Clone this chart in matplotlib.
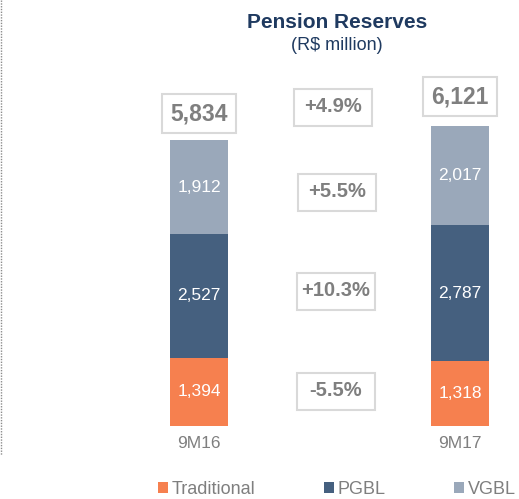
import numpy as np
import matplotlib.pyplot as plt
from matplotlib.lines import Line2D
from matplotlib.patches import Rectangle

plt.rcParams['font.family'] = ['Liberation Sans', 'DejaVu Sans']

# data
periods = ['9M16', '9M17']
traditional = [1394, 1318]
pgbl = [2527, 2787]
vgbl = [1912, 2017]
totals = [5834, 6121]
changes = ['+4.9%', '+5.5%', '+10.3%', '-5.5%']

c_trad = '#F6804F'
c_pgbl = '#45607F'
c_vgbl = '#9AA8BA'
grey = '#7F7F7F'
navy = '#1F3A60'

W, H = 519, 499
fig = plt.figure(figsize=(W / 100, H / 100), dpi=100)

# axes: bar bottom at pixel 426, 0.049 px per unit
ytop = 6500
ax_h = ytop * 0.049 / H
ax = fig.add_axes([0, 1 - 426 / H, 1, ax_h])
ax.set_xlim(-199 / 261, (W - 199) / 261)
ax.set_ylim(0, ytop)
ax.axis('off')

x = np.arange(len(periods))
bw = 58 / 261
b1 = ax.bar(x, traditional, bw, color=c_trad, label='Traditional')
b2 = ax.bar(x, pgbl, bw, bottom=traditional, color=c_pgbl, label='PGBL')
bot3 = np.array(traditional) + np.array(pgbl)
b3 = ax.bar(x, vgbl, bw, bottom=bot3, color=c_vgbl, label='VGBL')

for bars, vals in [(b1, traditional), (b2, pgbl), (b3, vgbl)]:
    for r, v in zip(bars, vals):
        ax.text(r.get_x() + r.get_width() / 2, r.get_y() + r.get_height() / 2,
                f'{v:,}', ha='center', va='center', color='white', fontsize=12.5)

box = dict(boxstyle='square,pad=0.35', fc='white', ec='#D9D9D9', lw=1.5)
offs = [19, 21]
for xi, t, o in zip(x, totals, offs):
    ax.annotate(f'{t:,}', (xi, t), xytext=(0, o), textcoords='offset points',
                ha='center', va='center', fontsize=16.5, fontweight='bold',
                color=grey, bbox=box)

# change boxes, fixed size 78x37 px
chg_pos = [(333, 107), (337, 192), (336, 291), (336, 391)]
for s, (px, py) in zip(changes, chg_pos):
    fig.add_artist(Rectangle(((px - 39) / W, 1 - (py + 18.5) / H), 78 / W, 37 / H,
                             transform=fig.transFigure, fc='white',
                             ec='#D9D9D9', lw=1.5))
    fig.text(px / W, 1 - py / H, s, ha='center', va='center', fontsize=14.5,
             fontweight='bold', color=grey)

# category labels
for xi, p in zip(x, periods):
    ax.text(xi, -17 / 0.049, p, ha='center', va='center', fontsize=12.5,
            color=grey)

fig.text(337 / W, 1 - 22 / H, 'Pension Reserves', ha='center', va='center',
         fontsize=15, fontweight='bold', color=navy)
fig.text(337 / W, 1 - 45 / H, '(R$ million)', ha='center', va='center',
         fontsize=13, color=navy)

fig.legend(handles=[b1, b2, b3], labels=['Traditional', 'PGBL', 'VGBL'],
           loc='center left', bbox_to_anchor=(158 / W, 1 - 489 / H), ncol=3,
           frameon=False, fontsize=13, labelcolor=grey, handlelength=0.55,
           handleheight=0.55, handletextpad=0.2, columnspacing=3.8,
           borderpad=0, borderaxespad=0)

fig.add_artist(Line2D([1 / W, 1 / W], [1, 1 - 455 / H], transform=fig.transFigure,
                      color='#8C8C8C', lw=1, ls=(0, (1, 1))))

fig.savefig('out.png', dpi=100)
